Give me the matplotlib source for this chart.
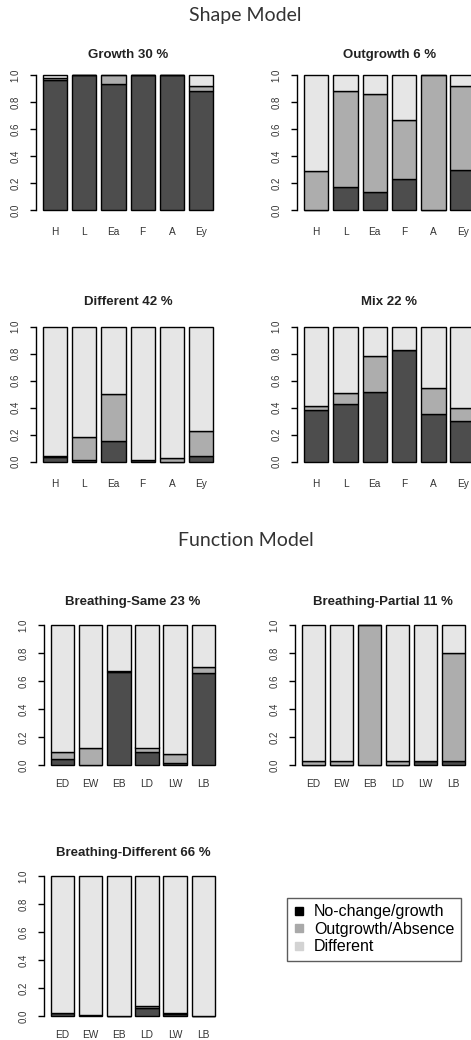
import numpy as np
import matplotlib
matplotlib.use('Agg')
import matplotlib.pyplot as plt
from matplotlib.lines import Line2D

W, H = 471, 1040

shape_labels = ['H', 'L', 'Ea', 'F', 'A', 'Ey']
func_labels = ['ED', 'EW', 'EB', 'LD', 'LW', 'LB']

# Shape model panels (fractions: no-change/growth, outgrowth/absence, different)
growth_nochange = [0.965, 1.0, 0.93, 1.0, 1.0, 0.885]
growth_outgrowth = [0.01, 0.0, 0.07, 0.0, 0.0, 0.03]
growth_different = [0.025, 0.0, 0.0, 0.0, 0.0, 0.085]

outgrowth_nochange = [0.0, 0.17, 0.13, 0.23, 0.0, 0.30]
outgrowth_outgrowth = [0.29, 0.71, 0.73, 0.44, 1.0, 0.62]
outgrowth_different = [0.71, 0.12, 0.14, 0.33, 0.0, 0.08]

different_nochange = [0.035, 0.01, 0.155, 0.01, 0.0, 0.045]
different_outgrowth = [0.005, 0.175, 0.345, 0.0, 0.025, 0.185]
different_different = [0.96, 0.815, 0.50, 0.99, 0.975, 0.77]

mix_nochange = [0.38, 0.43, 0.52, 0.83, 0.35, 0.30]
mix_outgrowth = [0.03, 0.08, 0.26, 0.0, 0.195, 0.10]
mix_different = [0.59, 0.49, 0.22, 0.17, 0.455, 0.60]

# Function model panels
bsame_nochange = [0.045, 0.0, 0.665, 0.09, 0.012, 0.66]
bsame_outgrowth = [0.045, 0.12, 0.005, 0.035, 0.065, 0.04]
bsame_different = [0.91, 0.88, 0.33, 0.875, 0.923, 0.30]

bpart_nochange = [0.0, 0.0, 0.0, 0.0, 0.03, 0.03]
bpart_outgrowth = [0.03, 0.03, 1.0, 0.03, 0.0, 0.77]
bpart_different = [0.97, 0.97, 0.0, 0.97, 0.97, 0.20]

bdiff_nochange = [0.02, 0.005, 0.0, 0.06, 0.015, 0.0]
bdiff_outgrowth = [0.005, 0.005, 0.002, 0.015, 0.005, 0.002]
bdiff_different = [0.975, 0.99, 0.998, 0.925, 0.98, 0.998]

legend_labels = ['No-change/growth', 'Outgrowth/Absence', 'Different']

DARK, MED, LIGHT = '#4d4d4d', '#adadad', '#e6e6e6'
LEG_COLORS = ['#000000', '#a9a9a9', '#d3d3d3']

plt.rcParams['font.family'] = ['Liberation Sans', 'DejaVu Sans']

fig = plt.figure(figsize=(W / 100, H / 100), dpi=100)


def panel(x0, top, x1, bottom, title, title_y, labels, nc, og, df, xpad):
    ax = fig.add_axes([x0 / W, 1 - bottom / H, (x1 - x0) / W, (bottom - top) / H])
    nc = np.array(nc); og = np.array(og); df = np.array(df)
    pos = 0.7 + 1.2 * np.arange(len(labels))
    kw = dict(width=1.0, edgecolor='black', linewidth=1.0)
    ax.bar(pos, nc, color=DARK, **kw)
    ax.bar(pos, og, bottom=nc, color=MED, **kw)
    ax.bar(pos, df, bottom=nc + og, color=LIGHT, **kw)
    ax.set_xlim(-0.08, 7.48)
    ax.set_ylim(-0.04, 1.04)
    for s in ['top', 'right', 'bottom']:
        ax.spines[s].set_visible(False)
    ax.spines['left'].set_bounds(0, 1)
    ax.spines['left'].set_linewidth(1.0)
    ticks = np.arange(0, 1.01, 0.2)
    ax.set_yticks(ticks)
    ax.set_yticklabels(['%.1f' % t for t in ticks], rotation=90, va='center',
                       fontsize=6.9, color='#333333')
    ax.tick_params(axis='y', length=4.3, width=1.0, pad=7.2)
    ax.set_xticks(pos)
    ax.set_xticklabels(labels, fontsize=7.3, color='#333333')
    ax.tick_params(axis='x', length=0, pad=xpad)
    fig.text(((x0 + x1) / 2) / W, 1 - title_y / H, title, ha='center', va='center',
             fontweight='bold', fontsize=9.5, color='#222222')
    return ax


panel(36.2, 69.6, 220.0, 215.4, 'Growth 30 %', 55, shape_labels,
      growth_nochange, growth_outgrowth, growth_different, 8.5)
panel(297.2, 69.6, 481.7, 215.4, 'Outgrowth 6 %', 55, shape_labels,
      outgrowth_nochange, outgrowth_outgrowth, outgrowth_different, 8.5)
panel(36.2, 321.3, 220.0, 467.1, 'Different 42 %', 301.7, shape_labels,
      different_nochange, different_outgrowth, different_different, 8.5)
panel(297.2, 321.3, 481.7, 467.1, 'Mix 22 %', 301.7, shape_labels,
      mix_nochange, mix_outgrowth, mix_different, 8.5)

panel(44.1, 619.4, 221.7, 770.6, 'Breathing-Same 23 %', 601.7, func_labels,
      bsame_nochange, bsame_outgrowth, bsame_different, 6.3)
panel(295.2, 619.4, 471.6, 770.6, 'Breathing-Partial 11 %', 601.7, func_labels,
      bpart_nochange, bpart_outgrowth, bpart_different, 6.3)
panel(44.1, 870.4, 221.7, 1021.6, 'Breathing-Different 66 %', 853, func_labels,
      bdiff_nochange, bdiff_outgrowth, bdiff_different, 6.3)

fig.text(245 / W, 1 - 15 / H, 'Shape Model', ha='center', va='center',
         fontsize=14, family=['Lato', 'DejaVu Sans'], color='#333333')
fig.text(246 / W, 1 - 541 / H, 'Function Model', ha='center', va='center',
         fontsize=14, family=['Lato', 'DejaVu Sans'], color='#333333')

handles = [Line2D([], [], linestyle='none', marker='s', markersize=6,
                  markerfacecolor=c, markeredgecolor=c) for c in LEG_COLORS]
leg = fig.legend(handles, legend_labels, loc='upper left',
                 bbox_to_anchor=(286.7 / W, 1 - 898 / H), borderaxespad=0,
                 fontsize=11.5, frameon=True, fancybox=False, handlelength=0.8,
                 handletextpad=0.5, labelspacing=0.15, borderpad=0.4)
leg.get_frame().set_edgecolor('#333333')
leg.get_frame().set_linewidth(1.0)

fig.savefig('out.png', dpi=100)
